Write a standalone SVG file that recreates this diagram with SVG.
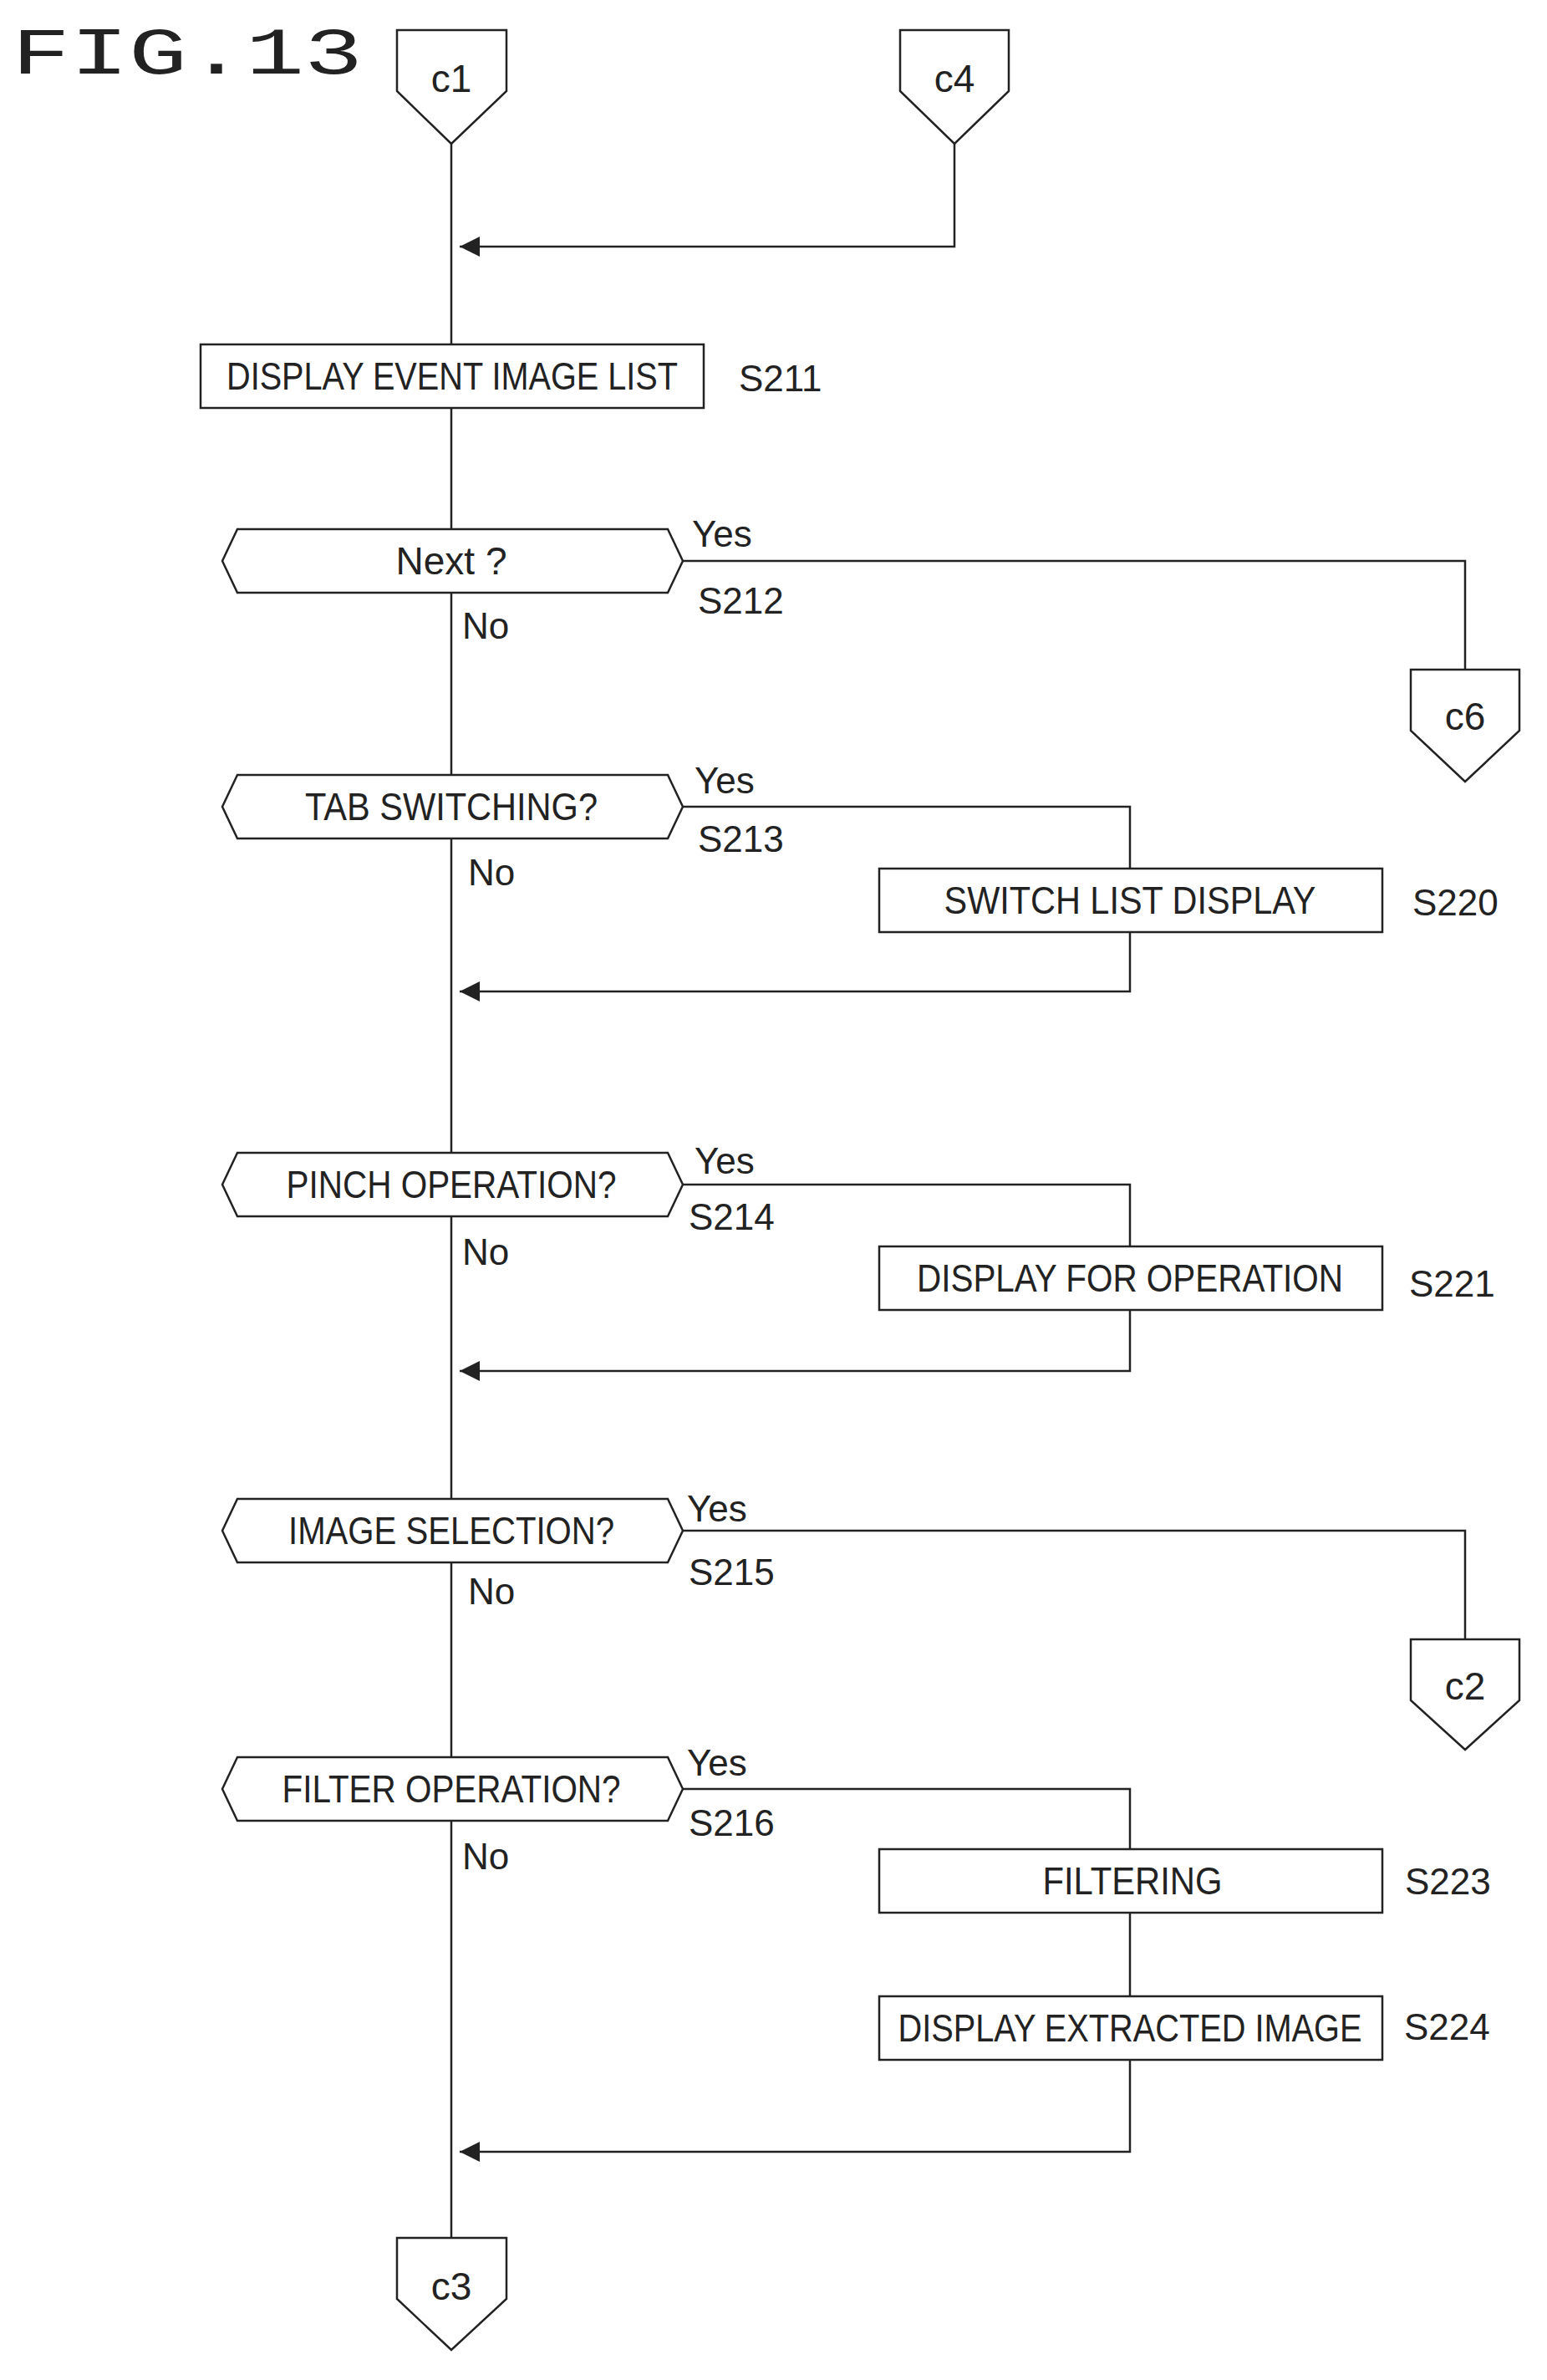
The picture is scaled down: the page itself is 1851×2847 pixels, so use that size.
<svg xmlns="http://www.w3.org/2000/svg" width="1851" height="2847" viewBox="0 0 1851 2847">
<style>
.s{fill:#fff;stroke:#222;stroke-width:2.5}
.l{fill:none;stroke:#222;stroke-width:2.5}
.t{font-family:"Liberation Sans",Arial,sans-serif;font-size:46px;fill:#222;text-anchor:middle;dominant-baseline:central}
.a{font-family:"Liberation Sans",Arial,sans-serif;font-size:44px;fill:#222;dominant-baseline:central}
</style>
<defs><marker id="ar" viewBox="0 0 10 10" refX="10" refY="5" markerWidth="24" markerHeight="24" markerUnits="userSpaceOnUse" orient="auto"><path d="M0,0 L10,5 L0,10 Z" fill="#222"/></marker></defs>
<text x="14" y="88" style="font-family:'Liberation Mono',monospace;font-size:80px;fill:#222" textLength="420" lengthAdjust="spacingAndGlyphs">FIG.13</text>
<g id="connectors">
<path class="l" d="M540,172 V412 M540,488 V633 M540,709 V927 M540,1003 V1379 M540,1455 V1793 M540,1869 V2102 M540,2178 V2677"/>
<path class="l" d="M1142,172 V295 H550" marker-end="url(#ar)"/>
<path class="l" d="M817,671 H1753 V801"/>
<path class="l" d="M817,965 H1352 V1039 M1352,1115 V1186 H550" marker-end="url(#ar)"/>
<path class="l" d="M817,1417 H1352 V1491 M1352,1567 V1640 H550" marker-end="url(#ar)"/>
<path class="l" d="M817,1831 H1753 V1961"/>
<path class="l" d="M817,2140 H1352 V2212 M1352,2288 V2388 M1352,2464 V2574 H550" marker-end="url(#ar)"/>
<text class="a" x="828" y="638">Yes</text><text class="a" x="553" y="748">No</text>
<text class="a" x="831" y="933">Yes</text><text class="a" x="560" y="1043">No</text>
<text class="a" x="831" y="1388">Yes</text><text class="a" x="553" y="1497">No</text>
<text class="a" x="822" y="1804">Yes</text><text class="a" x="560" y="1903">No</text>
<text class="a" x="822" y="2108">Yes</text><text class="a" x="553" y="2220">No</text>
</g>
<g id="c1"><path class="s" d="M475,36 H606 V109 L540,172 L475,109 Z"/><text class="t" x="540" y="94">c1</text></g>
<g id="c4"><path class="s" d="M1077,36 H1207 V109 L1142,172 L1077,109 Z"/><text class="t" x="1142" y="94">c4</text></g>
<g id="S211"><rect class="s" x="240" y="412" width="602" height="76"/><text class="t" x="541" y="450" textLength="540" lengthAdjust="spacingAndGlyphs">DISPLAY EVENT IMAGE LIST</text><text class="a" x="884" y="452">S211</text></g>
<g id="S212"><path class="s" d="M284,633 H799 L817,671 L799,709 H284 L266,671 Z"/><text class="t" x="540" y="671">Next ?</text><text class="a" x="835" y="718">S212</text></g>
<g id="c6"><path class="s" d="M1688,801 H1818 V874 L1753,935 L1688,874 Z"/><text class="t" x="1753" y="857">c6</text></g>
<g id="S213"><path class="s" d="M284,927 H799 L817,965 L799,1003 H284 L266,965 Z"/><text class="t" x="540" y="965" textLength="350" lengthAdjust="spacingAndGlyphs">TAB SWITCHING?</text><text class="a" x="835" y="1003">S213</text></g>
<g id="S220"><rect class="s" x="1052" y="1039" width="602" height="76"/><text class="t" x="1352" y="1077" textLength="445" lengthAdjust="spacingAndGlyphs">SWITCH LIST DISPLAY</text><text class="a" x="1690" y="1079">S220</text></g>
<g id="S214"><path class="s" d="M284,1379 H799 L817,1417 L799,1455 H284 L266,1417 Z"/><text class="t" x="540" y="1417" textLength="395" lengthAdjust="spacingAndGlyphs">PINCH OPERATION?</text><text class="a" x="824" y="1455">S214</text></g>
<g id="S221"><rect class="s" x="1052" y="1491" width="602" height="76"/><text class="t" x="1352" y="1529" textLength="510" lengthAdjust="spacingAndGlyphs">DISPLAY FOR OPERATION</text><text class="a" x="1686" y="1535">S221</text></g>
<g id="S215"><path class="s" d="M284,1793 H799 L817,1831 L799,1869 H284 L266,1831 Z"/><text class="t" x="540" y="1831" textLength="390" lengthAdjust="spacingAndGlyphs">IMAGE SELECTION?</text><text class="a" x="824" y="1880">S215</text></g>
<g id="c2"><path class="s" d="M1688,1961 H1818 V2034 L1753,2093 L1688,2034 Z"/><text class="t" x="1753" y="2017">c2</text></g>
<g id="S216"><path class="s" d="M284,2102 H799 L817,2140 L799,2178 H284 L266,2140 Z"/><text class="t" x="540" y="2140" textLength="405" lengthAdjust="spacingAndGlyphs">FILTER OPERATION?</text><text class="a" x="824" y="2180">S216</text></g>
<g id="S223"><rect class="s" x="1052" y="2212" width="602" height="76"/><text class="t" x="1355" y="2250" textLength="215" lengthAdjust="spacingAndGlyphs">FILTERING</text><text class="a" x="1681" y="2250">S223</text></g>
<g id="S224"><rect class="s" x="1052" y="2388" width="602" height="76"/><text class="t" x="1352" y="2426" textLength="555" lengthAdjust="spacingAndGlyphs">DISPLAY EXTRACTED IMAGE</text><text class="a" x="1680" y="2424">S224</text></g>
<g id="c3"><path class="s" d="M475,2677 H606 V2750 L540,2811 L475,2750 Z"/><text class="t" x="540" y="2735">c3</text></g>
</svg>
